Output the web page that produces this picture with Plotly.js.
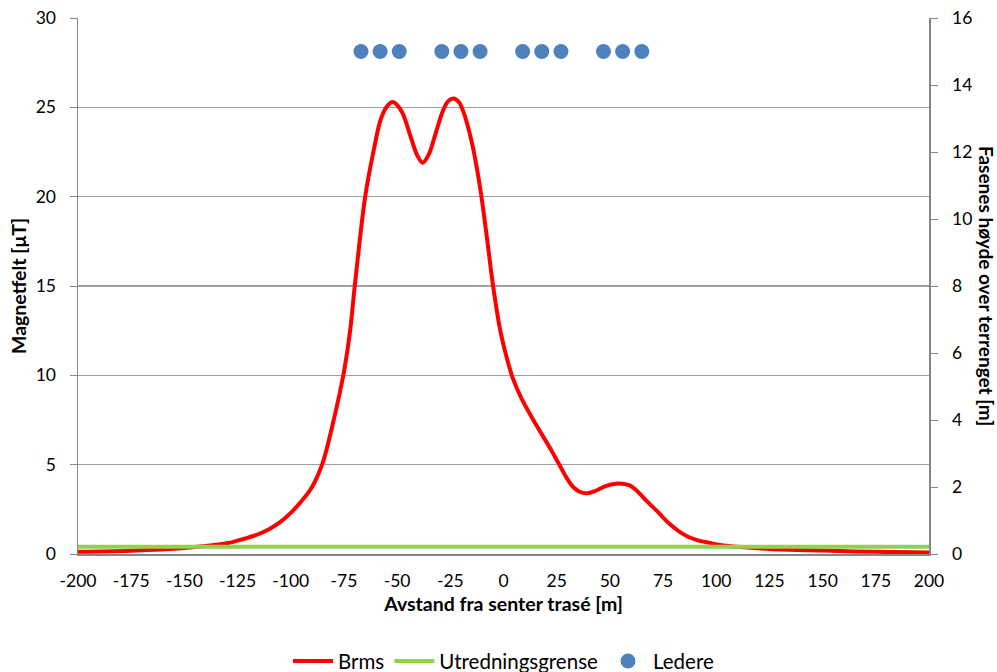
<!DOCTYPE html>
<html>
<head>
<meta charset="utf-8">
<script src="https://cdn.plot.ly/plotly-3.0.1.min.js"></script>
<style>html,body{margin:0;padding:0;background:#fff;}#chart{width:997px;height:672px;}</style>
</head>
<body>
<div id="chart"></div>
<script>
// Brms curve (µT) vs distance from route centre (m)
const brmsX = [-200,-175,-150,-140,-130,-125,-120,-115,-110,-105,-100,-95,-90,-85,-80,-75,-72,-70,-65,-61,-57.5,-54.5,-52,-48,-43.5,-40.5,-38,-35,-32.5,-28.5,-26,-23.5,-21,-19,-15,-11,-8,-5,-1.5,1.5,4.5,8.5,15,22,26,30,33,36,39,43,48,54,59,63,67,73,77,80,83,87,91,95,102,110,125,150,175,200];
const brmsY = [0.12,0.18,0.33,0.45,0.6,0.75,0.92,1.12,1.4,1.78,2.3,2.95,3.75,5.1,7.4,10.2,12.6,14.9,20.0,22.6,24.4,25.1,25.3,24.8,23.3,22.3,21.9,22.4,23.3,24.8,25.35,25.5,25.3,24.8,23.1,20.5,17.9,15.1,12.5,11.0,9.8,8.7,7.3,5.9,5.05,4.2,3.72,3.47,3.4,3.52,3.8,3.95,3.85,3.5,3.0,2.3,1.8,1.5,1.22,0.95,0.78,0.67,0.5,0.4,0.28,0.19,0.12,0.08];
// Investigation limit (µT)
const limitX = [-200, 200];
const limitY = [0.4, 0.4];
// Conductor positions (m) and height above terrain (m)
const ledereX = [-67,-58,-49,-29,-20,-11,9,18,27,47,56,65];
const ledereY = [15,15,15,15,15,15,15,15,15,15,15,15];
const xTicks = [-200,-175,-150,-125,-100,-75,-50,-25,0,25,50,75,100,125,150,175,200];

const FONT = 'Lato, "Open Sans", sans-serif';
const data = [
  {x: brmsX, y: brmsY, name: 'Brms', type: 'scatter', mode: 'lines',
   line: {color: '#FF0000', width: 4, shape: 'spline', smoothing: 1}},
  {x: limitX, y: limitY, name: 'Utredningsgrense', type: 'scatter', mode: 'lines',
   line: {color: '#92D050', width: 4}},
  {x: ledereX, y: ledereY, name: 'Ledere', type: 'scatter', mode: 'markers', yaxis: 'y2',
   marker: {color: '#4F81BD', size: 15}}
];
const layout = {
  width: 997, height: 672,
  margin: {l: 78, r: 68, t: 18, b: 118, autoexpand: false},
  paper_bgcolor: '#fff', plot_bgcolor: '#fff',
  font: {family: FONT, size: 17.5, color: '#000'},
  showlegend: true,
  legend: {orientation: 'h', x: 0.5, xanchor: 'center', y: -0.2, yanchor: 'middle',
           font: {family: FONT, size: 20.5, color: '#000'}, itemwidth: 40, traceorder: 'normal'},
  xaxis: {range: [-200, 200], tickvals: xTicks, ticktext: xTicks.map(String), automargin: false,
          showgrid: false, zeroline: false, showline: true, linecolor: '#868686', linewidth: 1.5,
          ticks: '', ticklabelstandoff: 10,
          title: {text: '<b>Avstand fra senter trasé [m]</b>', font: {family: FONT, size: 19.5}, standoff: 8}},
  yaxis: {range: [0, 30], dtick: 5, showgrid: true, gridcolor: '#A0A0A0', gridwidth: 1.3, automargin: false,
          zeroline: false, showline: true, linecolor: '#868686', linewidth: 1.5,
          ticks: 'outside', ticklen: 7, tickcolor: '#868686', ticklabelstandoff: 10,
          title: {text: '<b>Magnetfelt [μT]</b>', font: {family: FONT, size: 19.5}, standoff: 4}},
  yaxis2: {range: [0, 16], dtick: 2, overlaying: 'y', side: 'right', showgrid: false, automargin: false,
           zeroline: false, showline: true, linecolor: '#868686', linewidth: 1.5,
           ticks: 'outside', ticklen: 7, tickcolor: '#868686', ticklabelstandoff: 11},
  annotations: [{text: '<b>Fasenes høyde over terrenget [m]</b>', xref: 'paper', yref: 'paper',
                 x: 1, xanchor: 'center', xshift: 58, y: 0.5, yanchor: 'middle', textangle: 90, showarrow: false,
                 font: {family: FONT, size: 19, color: '#000'}}]
};
Plotly.newPlot('chart', data, layout, {displayModeBar: false, staticPlot: true});
</script>
</body>
</html>
